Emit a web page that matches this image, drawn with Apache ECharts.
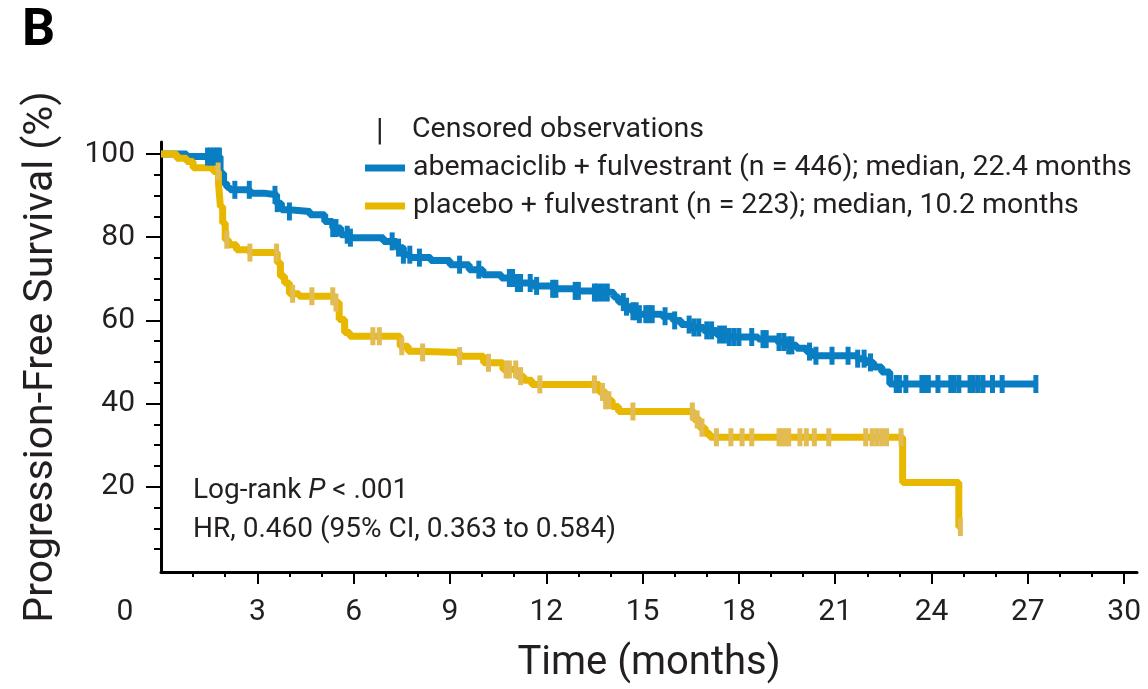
<!DOCTYPE html>
<html>
<head>
<meta charset="utf-8">
<title>Progression-Free Survival</title>
<script src="https://cdn.jsdelivr.net/npm/echarts@6/dist/echarts.min.js"></script>
<style>
  html, body { margin: 0; padding: 0; background: #ffffff; }
  #chart { width: 1148px; height: 689px; }
</style>
</head>
<body>
<div id="chart"></div>
<script>
// Kaplan-Meier step points: time (months) and survival (%) after each step
const abemaTimes = [0, 0.8, 1.84, 1.95, 2.05, 2.15, 2.77, 3.2, 3.6, 3.75, 4.0, 4.64, 5.1, 5.35, 5.6, 5.89,
  6.93, 7.34, 7.55, 7.76, 8.4, 9.0, 9.6, 10.03, 10.6, 11.08, 11.6, 12.2, 12.9, 13.5, 14.1, 14.25, 14.45,
  14.65, 14.85, 15.6, 15.95, 16.2, 16.5, 16.9, 17.3, 17.7, 18.6, 19.2, 19.5, 19.8, 20.1, 20.3, 21.7,
  21.95, 22.2, 22.45, 22.7, 27.25];
const abemaSurv = [100, 99.4, 95.4, 93.0, 92.0, 91.4, 90.6, 90.2, 88.2, 86.6, 86.2, 85.4, 83.8, 82.2, 80.6, 79.9,
  79.0, 77.5, 75.8, 75.1, 74.4, 73.4, 72.2, 71.0, 70.2, 69.0, 68.3, 67.6, 67.1, 66.7, 65.6, 64.4, 63.3,
  62.2, 61.5, 61.0, 60.0, 59.0, 58.3, 57.6, 56.6, 56.0, 55.5, 54.8, 54.0, 53.3, 52.5, 51.5, 50.8,
  49.9, 48.8, 47.6, 44.7, 44.7];
const abemaCensored = [1.45, 1.55, 1.65, 1.75, 1.82, 2.3, 2.75, 3.55, 3.62, 4.0, 5.35, 5.45, 5.8, 5.9, 7.2,
  7.4, 7.55, 7.75, 8.05, 9.3, 9.9, 10.85, 10.95, 11.1, 11.2, 11.5, 11.7, 12.2, 12.3, 12.9, 13.0, 13.5,
  13.6, 13.75, 13.9, 14.4, 14.5, 14.7, 14.8, 14.9, 15.1, 15.2, 15.3, 15.7, 16.0, 16.45, 16.6, 16.75,
  17.0, 17.15, 17.4, 17.55, 17.7, 17.85, 18.0, 18.4, 18.75, 18.85, 19.25, 19.4, 19.55, 19.65, 20.2,
  20.4, 20.9, 21.4, 21.7, 21.9, 22.1, 22.9, 23.0, 23.2, 23.7, 23.8, 23.9, 24.2, 24.6, 24.7, 24.85,
  25.2, 25.3, 25.45, 25.6, 25.9, 26.2, 27.25];

const placeboTimes = [0, 0.49, 0.8, 1.0, 1.63, 1.79, 1.85, 1.92, 2.0, 2.1, 2.35, 2.75, 3.62, 3.72, 3.85,
  4.0, 4.3, 5.4, 5.55, 5.72, 5.88, 7.45, 7.7, 7.95, 9.3, 10.05, 10.65, 11.08, 11.3, 11.55, 13.65, 13.85,
  14.05, 14.25, 16.6, 16.78, 16.95, 17.1, 23.1, 24.85, 24.95];
const placeboSurv = [100, 99.0, 98.2, 96.7, 95.8, 93.0, 87.4, 83.4, 79.4, 78.2, 77.0, 76.3, 73.9, 70.6, 69.0,
  66.4, 65.8, 64.3, 60.2, 57.1, 56.2, 53.8, 52.6, 52.3, 51.4, 49.8, 48.2, 46.6, 45.6, 44.6, 42.8, 40.8,
  39.3, 38.1, 36.2, 34.2, 32.8, 31.9, 21.0, 10.3, 10.3];
const placeboCensored = [1.78, 2.05, 2.77, 3.6, 4.1, 4.7, 5.35, 5.45, 6.6, 6.8, 7.5, 8.15, 9.3, 10.2, 10.75,
  10.85, 11.05, 11.2, 11.8, 13.5, 13.75, 13.85, 13.95, 14.7, 16.55, 16.7, 16.85, 17.3, 17.75, 18.1, 18.4,
  19.25, 19.35, 19.45, 19.55, 19.9, 20.1, 20.35, 20.8, 21.95, 22.15, 22.3, 22.45, 22.6, 23.05, 24.9];

// Axis tick values
const xTickLabels = [0, 3, 6, 9, 12, 15, 18, 21, 24, 27, 30];
const xMajorTicks = [3, 6, 9, 12, 15, 18, 21, 24, 27, 30];
const xMinorTicks = [1, 2, 4, 5, 7, 8, 10, 11, 13, 14, 16, 17, 19, 20, 22, 23, 25, 26, 28, 29];
const yTickLabels = [20, 40, 60, 80, 100];
const yMinorTicks = [5, 10, 15, 25, 30, 35, 45, 50, 55, 65, 70, 75, 85, 90, 95];

const seriesNames = [
  'abemaciclib + fulvestrant (n = 446); median, 22.4 months',
  'placebo + fulvestrant (n = 223); median, 10.2 months'
];

const BLUE = '#0a7ec3';
const YELLOW = '#e8b800';
const YELLOW_CENSOR = '#e2bb52';
const INK = '#231f20';
const FONT = 'Roboto, "Noto Sans", sans-serif';

function stepPoints(times, surv) {
  return times.map((t, i) => [t, surv[i]]);
}
// survival level of the step curve at time t
function survivalAt(times, surv, t) {
  let v = surv[0];
  for (let i = 0; i < times.length; i++) {
    if (times[i] <= t + 1e-9) v = surv[i]; else break;
  }
  return v;
}
function censorPoints(censored, times, surv) {
  return censored.map(t => [t, survivalAt(times, surv, t)]);
}

const yMin = -0.5, yMax = 102.9;
const xMin = 0, xMax = 30.4;

const chart = echarts.init(document.getElementById('chart'), null, { renderer: 'canvas' });

const axisLineStyle = { color: '#000', width: 3 };

chart.setOption({
  animation: false,
  backgroundColor: '#ffffff',
  textStyle: { fontFamily: FONT },
  grid: { left: 161, right: 11, top: 142, bottom: 116, containLabel: false },
  xAxis: [
    {
      type: 'value', min: xMin, max: xMax,
      name: 'Time (months)', nameLocation: 'middle', nameGap: 72,
      nameTextStyle: { fontSize: 40, color: INK, fontFamily: FONT },
      axisLine: { show: true, lineStyle: axisLineStyle, onZero: false },
      axisTick: { show: true, length: 12, inside: false, customValues: xMajorTicks,
        lineStyle: { color: '#000', width: 2 } },
      axisLabel: {
        show: true, customValues: xTickLabels, margin: 25,
        fontSize: 30, color: INK, fontFamily: FONT,
        formatter: v => (v === 0 ? '{z|0}' : String(v)),
        rich: { z: { fontSize: 30, color: INK, fontFamily: FONT, padding: [0, 72, 0, 0] } }
      },
      splitLine: { show: false }
    },
    {
      type: 'value', min: xMin, max: xMax, position: 'bottom',
      axisLine: { show: false, onZero: false },
      axisTick: { show: true, length: 5, customValues: xMinorTicks,
        lineStyle: { color: '#000', width: 2 } },
      axisLabel: { show: false },
      splitLine: { show: false }
    }
  ],
  yAxis: [
    {
      type: 'value', min: yMin, max: yMax,
      name: 'Progression-Free Survival (%)', nameLocation: 'middle', nameGap: 99, nameRotate: 90,
      nameTextStyle: { fontSize: 41, color: INK, fontFamily: FONT },
      axisLine: { show: true, lineStyle: axisLineStyle, onZero: false },
      axisTick: { show: true, length: 15, customValues: yTickLabels,
        lineStyle: { color: '#000', width: 2 } },
      axisLabel: { show: true, customValues: yTickLabels, margin: 26,
        fontSize: 30, color: INK, fontFamily: FONT },
      splitLine: { show: false }
    },
    {
      type: 'value', min: yMin, max: yMax, position: 'left',
      axisLine: { show: false, onZero: false },
      axisTick: { show: true, length: 7, customValues: yMinorTicks,
        lineStyle: { color: '#000', width: 2 } },
      axisLabel: { show: false },
      splitLine: { show: false }
    }
  ],
  legend: {
    orient: 'vertical', left: 360, top: 148,
    itemWidth: 40, itemHeight: 7, itemGap: 8,
    icon: 'rect',
    textStyle: { fontSize: 28.5, color: INK, fontFamily: FONT, lineHeight: 30, padding: [0, 0, 0, 3] },
    data: seriesNames.map(n => ({ name: n })),
    selectedMode: false
  },
  graphic: [
    { type: 'text', left: 376, top: 117,
      style: { text: '|', fontSize: 31, fontFamily: FONT, fill: INK } },
    { type: 'text', left: 412, top: 115,
      style: { text: 'Censored observations', fontSize: 28.5, fontFamily: FONT, fill: INK } },
    { type: 'text', left: 22, top: 6,
      style: { text: 'B', fontSize: 52, fontWeight: 'bold', fontFamily: FONT, fill: '#000' } },
    { type: 'text', left: 193, top: 477,
      style: { text: 'Log-rank {i|P} < .001', fontSize: 28, fontFamily: FONT, fill: INK,
        rich: { i: { fontStyle: 'italic', fontSize: 28, fontFamily: FONT, fill: INK } } } },
    { type: 'text', left: 193, top: 516,
      style: { text: 'HR, 0.460 (95% CI, 0.363 to 0.584)', fontSize: 28, fontFamily: FONT, fill: INK } }
  ],
  series: [
    {
      name: seriesNames[0], type: 'line', step: 'end',
      data: stepPoints(abemaTimes, abemaSurv),
      showSymbol: false, symbol: 'none', z: 3,
      itemStyle: { color: BLUE },
      lineStyle: { color: BLUE, width: 7 }
    },
    {
      name: seriesNames[1], type: 'line', step: 'end',
      data: stepPoints(placeboTimes, placeboSurv),
      showSymbol: false, symbol: 'none', z: 4,
      itemStyle: { color: YELLOW },
      lineStyle: { color: YELLOW, width: 7 }
    },
    {
      name: 'abema-censored', type: 'scatter',
      data: censorPoints(abemaCensored, abemaTimes, abemaSurv),
      symbol: 'rect', symbolSize: [5, 18], z: 5,
      itemStyle: { color: BLUE, opacity: 1 }
    },
    {
      name: 'placebo-censored', type: 'scatter',
      data: censorPoints(placeboCensored, placeboTimes, placeboSurv),
      symbol: 'rect', symbolSize: [5, 18], z: 6,
      itemStyle: { color: YELLOW_CENSOR, opacity: 1 }
    }
  ]
});
</script>
</body>
</html>
